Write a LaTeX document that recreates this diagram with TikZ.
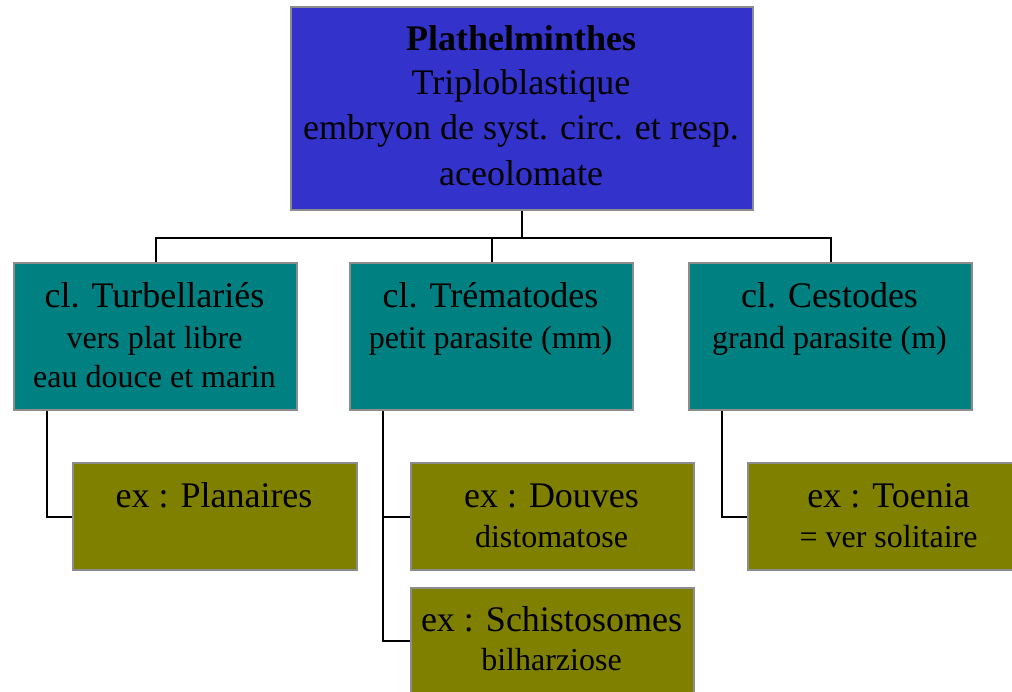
\documentclass[tikz,border=0pt]{standalone}
\usepackage{fontspec}
\setmainfont{Liberation Serif}
\definecolor{topblue}{HTML}{3333CC}
\definecolor{tealbox}{HTML}{008080}
\definecolor{olivebox}{HTML}{808000}
\definecolor{bordergray}{HTML}{8C8C8C}
\tikzset{
  box/.style={draw=bordergray, line width=2pt, rectangle, inner sep=0pt, anchor=north west},
  conn/.style={draw=black, line width=2pt},
  bigtxt/.style={anchor=base, inner sep=0pt, font=\fontsize{36}{43}\selectfont},
  smalltxt/.style={anchor=base, inner sep=0pt, font=\fontsize{32}{38}\selectfont},
}
\begin{document}
\begin{tikzpicture}[x=1pt,y=-1pt]
\useasboundingbox (0,0) rectangle (1012,691);
\clip (0,0) rectangle (1012,691);
% boxes
\node[box, fill=topblue, minimum width=462pt, minimum height=203pt] (top) at (290,6) {};
\node[box, fill=tealbox, minimum width=283pt, minimum height=147pt] (c1) at (13,262) {};
\node[box, fill=tealbox, minimum width=283pt, minimum height=147pt] (c2) at (349,262) {};
\node[box, fill=tealbox, minimum width=283pt, minimum height=147pt] (c3) at (688,262) {};
\node[box, fill=olivebox, minimum width=284pt, minimum height=107pt] (p1) at (72,462) {};
\node[box, fill=olivebox, minimum width=283pt, minimum height=107pt] (d2) at (410,462) {};
\node[box, fill=olivebox, minimum width=283pt, minimum height=106pt] (s2) at (410,587) {};
\node[box, fill=olivebox, minimum width=283pt, minimum height=107pt] (t3) at (747,462) {};
% connectors
\draw[conn] (top.south) -- ++(0,27) coordinate (hub);
\draw[conn] (c1.north) |- (c3.north |- hub) -- (c3.north);
\draw[conn] (c2.north) -- (c2.north |- hub);
\draw[conn] ([xshift=34pt]c1.south west) |- (p1.west);
\draw[conn] ([xshift=34pt]c2.south west) |- (d2.west);
\draw[conn] ([xshift=34pt]c2.south west) |- (s2.west);
\draw[conn] ([xshift=34pt]c3.south west) |- (t3.west);
% texts
\node[bigtxt] (top1) at (521,50) {\bfseries Plathelminthes};
\node[bigtxt] (top2) at (521,94) {Triploblastique};
\node[bigtxt] (top3) at (521,139) {embryon de syst. circ. et resp.};
\node[bigtxt] (top4) at (521,185) {aceolomate};
\node[bigtxt] (c1a) at (154.5,307) {cl. Turbellariés};
\node[smalltxt] (c1b) at (154.5,348) {vers plat libre};
\node[smalltxt] (c1c) at (154.5,387) {eau douce et marin};
\node[bigtxt] (c2a) at (490.5,307) {cl. Trématodes};
\node[smalltxt] (c2b) at (490.5,348) {petit parasite (mm)};
\node[bigtxt] (c3a) at (829.5,307) {cl. Cestodes};
\node[smalltxt] (c3b) at (829.5,348) {grand parasite (m)};
\node[bigtxt] (p1a) at (214,507) {ex : Planaires};
\node[bigtxt] (d2a) at (551.5,507) {ex : Douves};
\node[smalltxt] (d2b) at (551.5,547) {distomatose};
\node[bigtxt] (s2a) at (551.5,631) {ex : Schistosomes};
\node[smalltxt] (s2b) at (551.5,670) {bilharziose};
\node[bigtxt] (t3a) at (888.5,507) {ex : Toenia};
\node[smalltxt] (t3b) at (888.5,547) {= ver solitaire};
\end{tikzpicture}
\end{document}
